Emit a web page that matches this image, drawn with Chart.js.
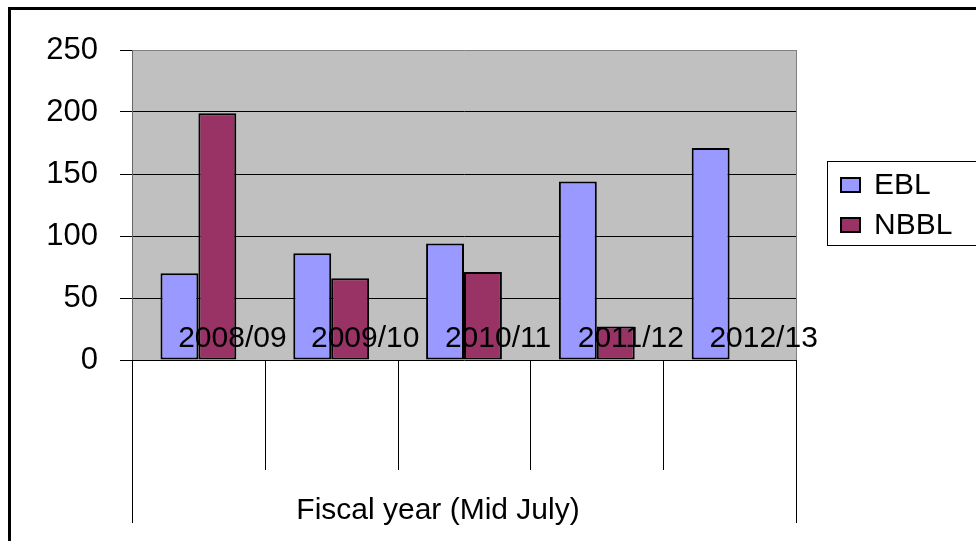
<!DOCTYPE html>
<html>
<head>
<meta charset="utf-8">
<script src="https://cdn.jsdelivr.net/npm/chart.js@4/dist/chart.umd.min.js"></script>
<style>
html, body { margin: 0; padding: 0; background: #fff; }
</style>
</head>
<body>
<canvas id="chart" width="976" height="541"></canvas>
<script>
const years = ['2008/09', '2009/10', '2010/11', '2011/12', '2012/13'];
const ebl = [70, 86, 94, 144, 171];
const nbbl = [199, 66, 71, 27, null];
const seriesNames = ['EBL', 'NBBL'];
const axisTitle = 'Fiscal year (Mid July)';

const FAMILY = '"Liberation Sans", Arial, sans-serif';
const FONT = '30px ' + FAMILY;

// plot background, frame, labels, the table lines under the axis and the legend box
const excelLook = {
    id: 'excelLook',
    beforeDraw(chart) {
        const ctx = chart.ctx;
        const a = chart.chartArea;
        ctx.save();
        ctx.fillStyle = '#fff';
        ctx.fillRect(0, 0, chart.width, chart.height);
        ctx.fillStyle = '#c0c0c0';
        ctx.fillRect(a.left, a.top, a.right - a.left, a.bottom - a.top);
        ctx.restore();
    },
    afterDraw(chart) {
        const ctx = chart.ctx;
        const a = chart.chartArea;
        const xs = chart.scales.x;
        const ys = chart.scales.y;
        ctx.save();

        // plot area border (right side)
        ctx.strokeStyle = '#808080';
        ctx.lineWidth = 1;
        ctx.beginPath();
        ctx.moveTo(Math.round(a.right) + 0.5, a.top);
        ctx.lineTo(Math.round(a.right) + 0.5, a.bottom);
        ctx.stroke();

        // category labels sit inside the plot, shifted right
        ctx.fillStyle = '#000';
        ctx.font = FONT;
        ctx.textAlign = 'center';
        ctx.textBaseline = 'middle';
        const zeroY = ys.getPixelForValue(0);
        years.forEach(function (y, i) {
            ctx.fillText(y, xs.getPixelForValue(i) + 34, zeroY - 21);
        });

        // lines under the axis
        ctx.strokeStyle = '#000';
        ctx.lineWidth = 1;
        for (let i = 0; i <= years.length; i++) {
            const x = Math.round(xs.getPixelForValue(i - 0.5)) + 0.5;
            const outer = (i === 0 || i === years.length);
            ctx.beginPath();
            ctx.moveTo(x, zeroY);
            ctx.lineTo(x, outer ? 523 : 470);
            ctx.stroke();
        }

        // axis title
        ctx.textBaseline = 'alphabetic';
        ctx.fillText(axisTitle, 438, 519);

        // legend
        ctx.strokeStyle = '#000';
        ctx.strokeRect(827.5, 161.5, 200, 84);
        ctx.textAlign = 'left';
        ctx.textBaseline = 'middle';
        chart.data.datasets.forEach(function (ds, i) {
            const cy = 185 + i * 40;
            ctx.fillStyle = ds.backgroundColor;
            ctx.fillRect(841, cy - 7, 19, 14);
            ctx.lineWidth = 2;
            ctx.strokeRect(841, cy - 7, 19, 14);
            ctx.fillStyle = '#000';
            ctx.fillText(ds.label, 874, cy + 1);
        });

        // outer chart frame
        ctx.lineWidth = 3;
        ctx.strokeStyle = '#000';
        ctx.strokeRect(9.5, 8.5, 1000, 600);
        ctx.restore();
    }
};

const chart = new Chart(document.getElementById('chart').getContext('2d'), {
    type: 'bar',
    data: {
        labels: years,
        datasets: [{
            label: seriesNames[0],
            data: ebl,
            backgroundColor: '#9999ff',
            borderColor: '#000',
            borderWidth: 2,
            borderSkipped: false
        }, {
            label: seriesNames[1],
            data: nbbl,
            backgroundColor: '#993366',
            borderColor: '#000',
            borderWidth: 2,
            borderSkipped: false
        }]
    },
    options: {
        responsive: false,
        animation: false,
        devicePixelRatio: 1,
        layout: {
            padding: { left: 0, top: 50, right: 180, bottom: 181 }
        },
        datasets: {
            bar: { categoryPercentage: 0.571, barPercentage: 1 }
        },
        plugins: {
            legend: { display: false },
            tooltip: { enabled: false }
        },
        scales: {
            x: {
                display: false
            },
            y: {
                min: 0,
                max: 250,
                afterFit: function (scale) { scale.width = 132; },
                ticks: {
                    stepSize: 50,
                    color: '#000',
                    padding: 22,
                    font: { family: FAMILY, size: 31 }
                },
                grid: {
                    color: function (c) { return c.tick && c.tick.value === 250 ? '#808080' : '#000'; },
                    tickColor: '#000',
                    tickLength: 12,
                    lineWidth: 1
                },
                border: { color: '#666', width: 1 }
            }
        }
    },
    plugins: [excelLook]
});
</script>
</body>
</html>
